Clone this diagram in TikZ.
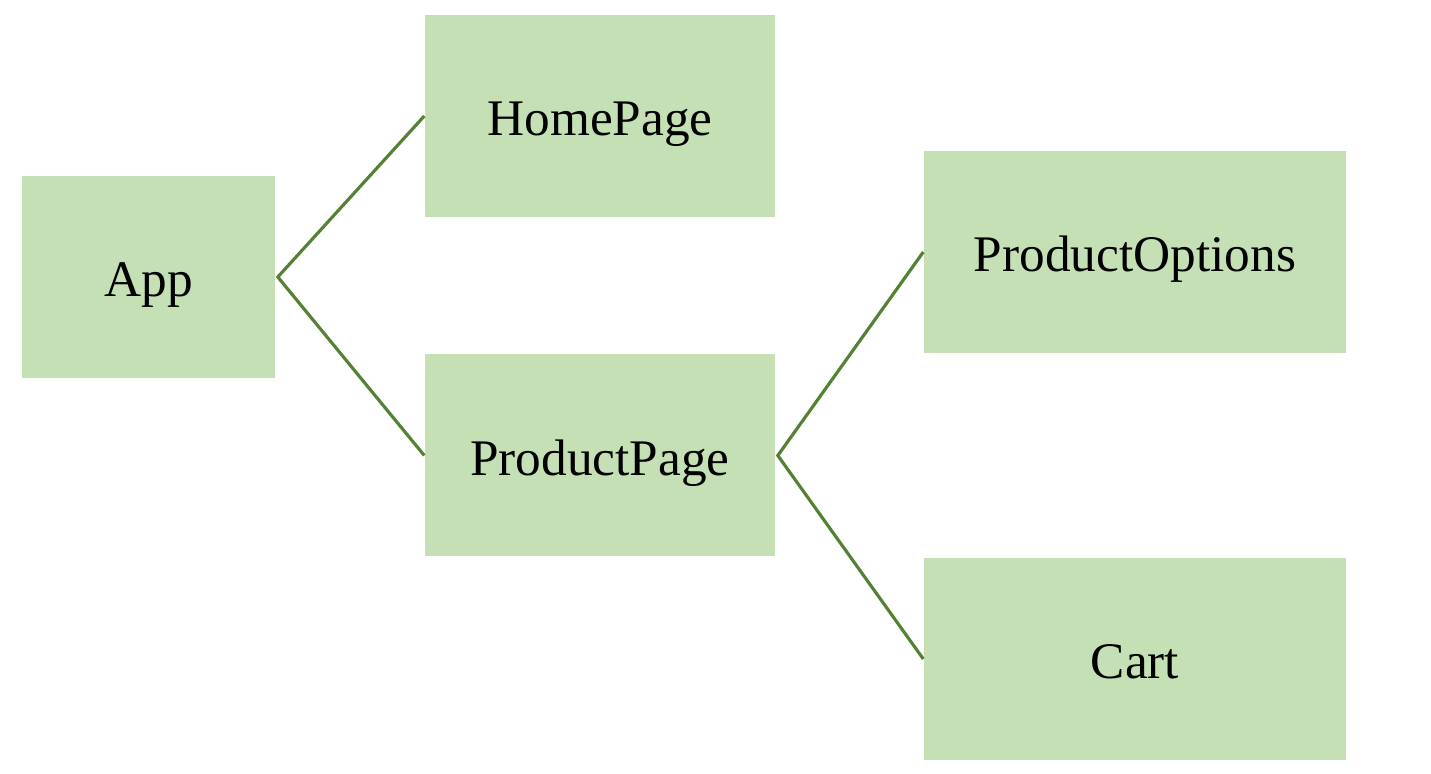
\documentclass[tikz,border=0pt]{standalone}
\usepackage{fontspec}
\setmainfont{Liberation Serif}
\usepackage{xcolor}
\usepackage{tikz}
\usetikzlibrary{positioning}
\definecolor{boxgreen}{HTML}{C5E0B4}
\definecolor{linegreen}{HTML}{548235}
\tikzset{comp/.style={fill=boxgreen,draw=none,minimum height=2.02cm,inner sep=0pt,
text height=11.3pt,text depth=0pt,font=\fontsize{14.6}{18}\selectfont},
link/.style={draw=linegreen,line width=0.9pt}}
\begin{document}
\begin{tikzpicture}
\useasboundingbox(0,0)rectangle(14.31,-7.74);
\node[comp,minimum width=2.53cm](app)at(1.485,-2.77){App};
\node[comp,minimum width=3.5cm](home)at(6.0,-1.16){HomePage};
\node[comp,minimum width=3.5cm](prodpage)at(6.0,-4.555){ProductPage};
%%%
\node[comp,minimum width=4.22cm](options)at(11.35,-2.52){ProductOptions};
\node[comp,minimum width=4.22cm](cart)at(11.35,-6.59){Cart};
%%%
\draw[link](home.west)--([xshift=0.6pt]app.east)--(prodpage.west);
\draw[link](options.west)--([xshift=0.6pt]prodpage.east)--(cart.west);
\end{tikzpicture}
\end{document}
